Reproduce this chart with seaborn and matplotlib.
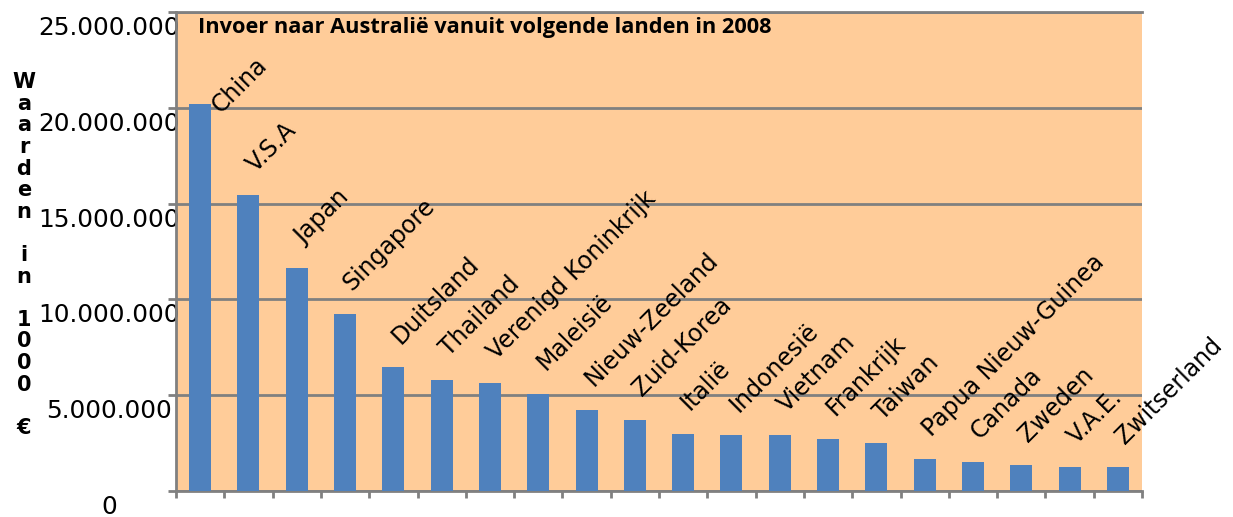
import numpy as np
import pandas as pd
import matplotlib
matplotlib.use("Agg")
import matplotlib.pyplot as plt
import matplotlib.transforms as mtransforms
import seaborn as sns

landen = ["China", "V.S.A", "Japan", "Singapore", "Duitsland", "Thailand",
          "Verenigd Koninkrijk", "Maleisië", "Nieuw-Zeeland", "Zuid-Korea",
          "Italië", "Indonesië", "Vietnam", "Frankrijk", "Taiwan",
          "Papua Nieuw-Guinea", "Canada", "Zweden", "V.A.E.", "Zwitserland"]
waarden = [20200000, 15450000, 11650000, 9250000, 6480000, 5810000,
           5650000, 5080000, 4250000, 3730000, 3000000, 2900000, 2900000,
           2740000, 2480000, 1650000, 1490000, 1340000, 1230000, 1230000]
y_ticks = [0, 5000000, 10000000, 15000000, 20000000, 25000000]
y_tick_labels = ["0", "5.000.000", "10.000.000", "15.000.000",
                 "20.000.000", "25.000.000"]
titel = "Invoer naar Australië vanuit volgende landen in 2008"
y_titel = "W\na\na\nr\nd\ne\nn\n\ni\nn\n\n1\n0\n0\n0\n\n€"

df = pd.DataFrame({"land": landen, "waarde": waarden})

grijs = "#808080"

fig = plt.figure(figsize=(12.33, 5.17), dpi=100)
ax = fig.add_axes([176 / 1233, 1 - 491 / 517, 966 / 1233, 479 / 517])
ax.set_facecolor("#FFCC99")

sns.barplot(data=df, x="land", y="waarde", color="#4F81BD", saturation=1,
            width=0.455, ax=ax, zorder=3)

ax.set_xlim(-0.5, len(landen) - 0.5)
ax.set_ylim(0, 25000000)

# gridlines + y ticks (labels sit a bit below their gridline, like Excel did)
ax.set_yticks(y_ticks)
ax.set_yticklabels(y_tick_labels, fontsize=17.8, family="DejaVu Sans")
ax.yaxis.grid(True, color=grijs, linewidth=2, zorder=1)
ax.set_axisbelow(True)
ax.tick_params(axis="y", length=6, width=2, color=grijs, pad=42)
shift = mtransforms.ScaledTranslation(0, -4 / 100, fig.dpi_scale_trans)
for lbl in ax.get_yticklabels():
    lbl.set_ha("center")
    lbl.set_va("top")
    lbl.set_transform(lbl.get_transform() + shift)

ax.set_xticks(np.arange(-0.5, len(landen), 1))
ax.set_xticklabels([])
ax.tick_params(axis="x", length=5, width=2, color=grijs)
ax.set_xlabel("")
ax.set_ylabel("")

ax.spines["right"].set_visible(False)
for s in ["left", "bottom", "top"]:
    ax.spines[s].set_color(grijs)
    ax.spines[s].set_linewidth(2)

# data labels above the bars
for i, (land, w) in enumerate(zip(landen, waarden)):
    dx, dy = (5, 16) if i > 0 else (15, -7)
    ax.annotate(land, xy=(i, w), xytext=(dx, dy), textcoords="offset points",
                rotation=45, rotation_mode="anchor", ha="left", va="baseline",
                fontsize=17, family="DejaVu Sans", zorder=5)

ax.text(0.0228, 0.968, titel, transform=ax.transAxes, ha="left", va="center",
        fontsize=15.7, fontweight="bold", family="Open Sans")

fig.text(24 / 1233, 1 - 255 / 517, y_titel, ha="center", va="center",
         fontsize=15, fontweight="bold", family="DejaVu Sans", linespacing=1.1)

fig.savefig("out.png", dpi=100)
